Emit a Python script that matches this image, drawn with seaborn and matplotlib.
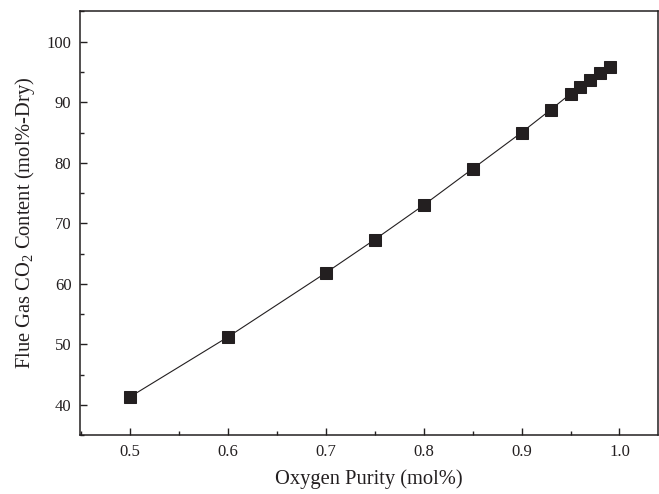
import matplotlib
matplotlib.use("Agg")
import matplotlib.pyplot as plt
import seaborn as sns
import pandas as pd
from matplotlib.ticker import MultipleLocator

# data
oxygen_purity = [0.50, 0.60, 0.70, 0.75, 0.80, 0.85, 0.90, 0.93, 0.95, 0.96, 0.97, 0.98, 0.99]
co2_content = [41.3, 51.2, 61.8, 67.3, 73.0, 79.0, 85.0, 88.8, 91.4, 92.6, 93.7, 94.8, 95.9]

df = pd.DataFrame({"purity": oxygen_purity, "co2": co2_content})

sns.set_style("ticks")
plt.rcParams["font.family"] = ["Liberation Serif", "DejaVu Serif"]
plt.rcParams["mathtext.fontset"] = "custom"
plt.rcParams["mathtext.rm"] = "Liberation Serif"
plt.rcParams["mathtext.it"] = "Liberation Serif:italic"
plt.rcParams["mathtext.default"] = "regular"

fig = plt.figure(figsize=(6.59, 4.94), dpi=100)
ax = fig.add_axes([0.121, 0.119, 0.877, 0.859])

sns.lineplot(data=df, x="purity", y="co2", ax=ax, color="#231f20",
             linewidth=0.8, marker="s", markersize=9,
             markeredgecolor="#231f20", markerfacecolor="#231f20")

ax.set_xlim(0.449, 1.039)
ax.set_ylim(35, 105.1)
ax.xaxis.set_major_locator(MultipleLocator(0.1))
ax.xaxis.set_minor_locator(MultipleLocator(0.05))
ax.yaxis.set_major_locator(MultipleLocator(10))
ax.yaxis.set_minor_locator(MultipleLocator(5))
ax.xaxis.set_major_formatter(matplotlib.ticker.FormatStrFormatter("%.1f"))

ax.tick_params(which="both", direction="in", top=False, right=False,
               labelsize=12, colors="#231f20", width=1.0)
ax.tick_params(which="major", length=5, pad=6)
ax.tick_params(which="minor", length=3)

for sp in ax.spines.values():
    sp.set_linewidth(1.1)
    sp.set_color("#231f20")
    sp.set_visible(True)

ax.set_xlabel("Oxygen Purity (mol%)", fontsize=14.8, color="#231f20", labelpad=7)
ax.set_ylabel("Flue Gas CO$_2$ Content (mol%-Dry)", fontsize=14.8, color="#231f20", labelpad=7)

fig.savefig("out.png", dpi=100)
